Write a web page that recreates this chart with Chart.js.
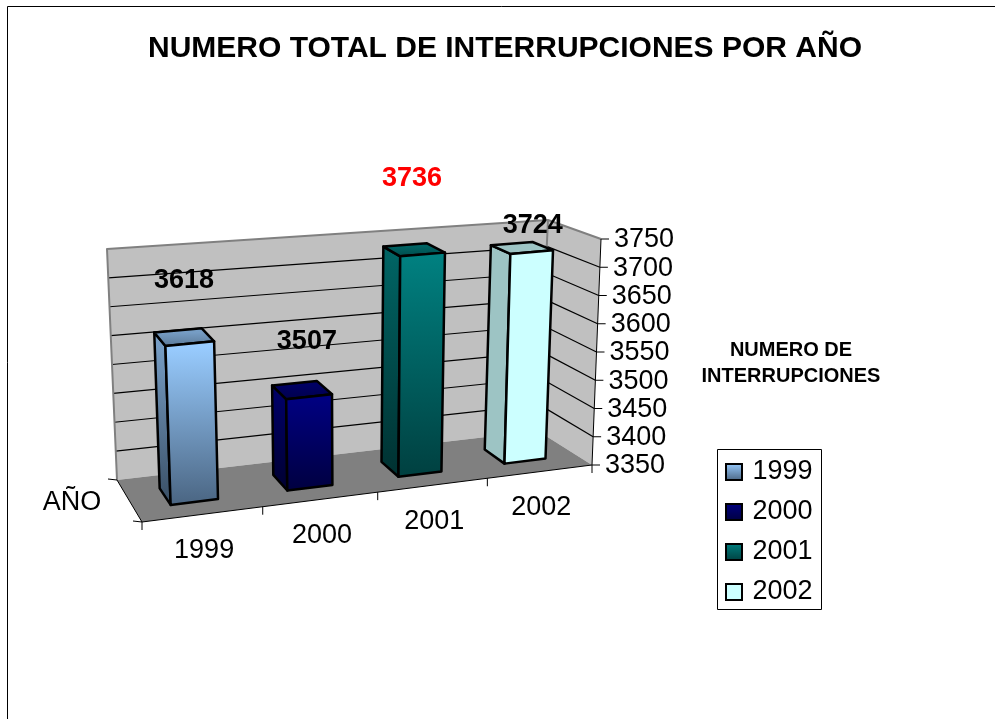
<!DOCTYPE html>
<html>
<head>
<meta charset="utf-8">
<style>html,body{margin:0;padding:0;background:#fff}canvas{display:block}</style>
<script src="https://cdn.jsdelivr.net/npm/chart.js@4/dist/chart.umd.js"></script>
</head>
<body>
<canvas id="c" width="995" height="719"></canvas>
<script>
const categories = ['1999', '2000', '2001', '2002'];
const values = [3618, 3507, 3736, 3724];
const yTickValues = [3350, 3400, 3450, 3500, 3550, 3600, 3650, 3700, 3750];
const chartTitle = 'NUMERO TOTAL DE INTERRUPCIONES POR AÑO';
const yAxisTitle = ['NUMERO DE', 'INTERRUPCIONES'];
const xAxisTitle = 'AÑO';
const colorsTop = ['#99CCFF', '#000080', '#008080', '#CCFFFF'];
const colorsBottom = ['#4A6582', '#000040', '#004040', '#CCFFFF'];
const labelColors = ['#000000', '#000000', '#FF0000', '#000000'];

const FONT = '"Liberation Sans", Arial, sans-serif';

// Oblique view of the plot box: corners of the box on the page
const box = {
  frontBottom: [[142, 522], [592, 465]],
  frontTop:    [[133, 280], [601, 239]],
  backBottom:  [[117, 480], [538, 431]],
  backTop:     [[107, 249], [548, 220]]
};
const foreshorten = 1.1;
const warp = u => foreshorten * u / (1 + (foreshorten - 1) * u);
const mix = (a, b, t) => [a[0] + (b[0] - a[0]) * t, a[1] + (b[1] - a[1]) * t];
function project(u, v, d) {
  const U = warp(u);
  const fb = mix(box.frontBottom[0], box.frontBottom[1], U);
  const ft = mix(box.frontTop[0], box.frontTop[1], U);
  const bb = mix(box.backBottom[0], box.backBottom[1], U);
  const bt = mix(box.backTop[0], box.backTop[1], U);
  return mix(mix(fb, ft, v), mix(bb, bt, v), d);
}
function shade(hex, k) {
  const n = parseInt(hex.slice(1), 16);
  const c = [n >> 16, (n >> 8) & 255, n & 255].map(x => Math.round(x * k));
  return `rgb(${c[0]},${c[1]},${c[2]})`;
}
function poly(ctx, pts) {
  ctx.beginPath();
  pts.forEach((p, i) => i ? ctx.lineTo(p[0], p[1]) : ctx.moveTo(p[0], p[1]));
  ctx.closePath();
}
function line(ctx, a, b) {
  ctx.beginPath(); ctx.moveTo(a[0], a[1]); ctx.lineTo(b[0], b[1]); ctx.stroke();
}
function swatch(i) {
  const cv = document.createElement('canvas');
  cv.width = 18; cv.height = 18;
  const g = cv.getContext('2d');
  const gr = g.createLinearGradient(0, 0, 0, 18);
  gr.addColorStop(0, colorsTop[i]); gr.addColorStop(1, colorsBottom[i]);
  g.fillStyle = gr; g.fillRect(1, 1, 16, 16);
  g.strokeStyle = '#000'; g.lineWidth = 2; g.strokeRect(1, 1, 16, 16);
  return cv;
}

const labelNudge = [[0, -56], [5, -48], [-2, -71], [11, -22]];
const categoryNudge = [1, 36];

const view3d = {
  id: 'view3d',
  afterLayout(chart) {
    const l = chart.legend;
    l.left = 716; l.right = 830; l.top = 445.5; l.bottom = 660;
  },
  beforeDatasetDraw() { return false; },
  afterDatasetsDraw(chart) {
    const ctx = chart.ctx, area = chart.chartArea;
    const xs = chart.scales.x, ys = chart.scales.y;
    const W = area.right - area.left, H = area.bottom - area.top;
    const nu = px => (px - area.left) / W;
    const nv = py => (area.bottom - py) / H;
    ctx.save();
    ctx.lineJoin = 'round';

    // Page frame
    ctx.strokeStyle = '#000'; ctx.lineWidth = 1;
    ctx.beginPath(); ctx.moveTo(7.5, 719); ctx.lineTo(7.5, 6.5); ctx.lineTo(995, 6.5); ctx.stroke();

    // Walls and floor
    ctx.fillStyle = '#C0C0C0';
    poly(ctx, [project(0,0,1), project(1,0,1), project(1,1,1), project(0,1,1)]); ctx.fill();
    poly(ctx, [project(1,0,1), project(1,0,0), project(1,1,0), project(1,1,1)]); ctx.fill();
    ctx.fillStyle = '#808080';
    poly(ctx, [project(0,0,1), project(1,0,1), project(1,0,0), project(0,0,0)]); ctx.fill();

    // Grid lines on the walls
    ctx.strokeStyle = '#000'; ctx.lineWidth = 1.2;
    ys.ticks.forEach(t => {
      const v = nv(ys.getPixelForValue(t.value));
      if (v <= 0.001 || v >= 0.999) return;
      line(ctx, project(0,v,1), project(1,v,1));
      line(ctx, project(1,v,1), project(1,v,0));
    });

    // Wall edges
    ctx.strokeStyle = '#808080'; ctx.lineWidth = 2;
    ctx.beginPath();
    [[0,0,1],[0,1,1],[1,1,1],[1,1,0]].forEach((q, i) => {
      const p = project(q[0], q[1], q[2]);
      i ? ctx.lineTo(p[0], p[1]) : ctx.moveTo(p[0], p[1]);
    });
    ctx.stroke();
    line(ctx, project(1,1,1), project(1,0,1));

    // Axis lines
    ctx.strokeStyle = '#000'; ctx.lineWidth = 1;
    line(ctx, project(0,0,1), project(0,0,0));
    line(ctx, project(0,0,0), project(1,0,0));
    line(ctx, project(1,0,0), project(1,1,0));

    // Category ticks, floor-edge ticks
    for (let i = 0; i <= categories.length; i++) {
      const p = project(i / categories.length, 0, 0);
      line(ctx, p, [p[0], p[1] + 8]);
    }
    [0, 1].forEach(d => {
      const p = project(0, 0, d);
      line(ctx, p, [p[0] - 9, p[1] - 1]);
    });

    // Value axis
    ctx.fillStyle = '#000'; ctx.textAlign = 'left'; ctx.textBaseline = 'middle';
    ctx.font = '27px ' + FONT;
    ys.ticks.forEach(t => {
      const v = nv(ys.getPixelForValue(t.value));
      const p = project(1, v, 0);
      line(ctx, p, [p[0] + 8, p[1]]);
      ctx.fillText(t.label, p[0] + 13, p[1] + 1);
    });

    // Category labels
    ctx.textAlign = 'center';
    xs.ticks.forEach((t, i) => {
      const p = project(nu(xs.getPixelForTick(i)), 0, 0);
      ctx.fillText(t.label, p[0] + categoryNudge[0], p[1] + categoryNudge[1]);
    });

    // Axis titles
    ctx.fillText(xAxisTitle, 72, 503);
    ctx.font = 'bold 20px ' + FONT;
    yAxisTitle.forEach((s, i) => ctx.fillText(s, 791, 350 + i * 26));

    // Columns
    const meta = chart.getDatasetMeta(0);
    const d0 = 0.3, d1 = 0.7;
    meta.data.forEach((bar, i) => {
      const u0 = nu(bar.x - bar.width / 2), u1 = nu(bar.x + bar.width / 2);
      const vb = nv(bar.base), vt = nv(bar.y);
      const fbl = project(u0, vb, d0), fbr = project(u1, vb, d0);
      const ftl = project(u0, vt, d0), ftr = project(u1, vt, d0);
      const bbl = project(u0, vb, d1), btl = project(u0, vt, d1), btr = project(u1, vt, d1);
      const ramp = k => {
        const g = ctx.createLinearGradient(0, ftl[1], 0, fbl[1]);
        g.addColorStop(0, shade(colorsTop[i], k));
        g.addColorStop(1, shade(colorsBottom[i], k));
        return g;
      };
      ctx.strokeStyle = '#000'; ctx.lineWidth = 2.5;
      ctx.fillStyle = ramp(0.77);
      poly(ctx, [btl, ftl, fbl, bbl]); ctx.fill(); ctx.stroke();
      const tg = ctx.createLinearGradient(0, btl[1], 0, ftl[1]);
      tg.addColorStop(0, shade(colorsTop[i], 0.77));
      tg.addColorStop(1, shade(colorsTop[i], i === 3 ? 0.77 : 0.6));
      ctx.fillStyle = tg;
      poly(ctx, [btl, btr, ftr, ftl]); ctx.fill(); ctx.stroke();
      ctx.fillStyle = ramp(1);
      poly(ctx, [ftl, ftr, fbr, fbl]); ctx.fill(); ctx.stroke();
    });

    // Value labels
    ctx.font = 'bold 27px ' + FONT;
    ctx.textAlign = 'center';
    meta.data.forEach((bar, i) => {
      const p = project(nu(bar.x), nv(bar.y), 0.5);
      ctx.fillStyle = labelColors[i];
      ctx.fillText(String(values[i]), p[0] + labelNudge[i][0], p[1] + labelNudge[i][1]);
    });

    // Legend frame
    ctx.strokeStyle = '#000'; ctx.lineWidth = 1;
    ctx.strokeRect(717.5, 449.5, 104, 160);
    ctx.restore();
  }
};

new Chart(document.getElementById('c'), {
  type: 'bar',
  data: {
    labels: categories,
    datasets: [{
      label: 'NUMERO DE INTERRUPCIONES',
      data: values,
      base: 3350,
      backgroundColor: colorsTop,
      barPercentage: 0.8,
      categoryPercentage: 0.5
    }]
  },
  options: {
    responsive: false,
    animation: false,
    devicePixelRatio: 1,
    layout: { padding: { left: 15 } },
    scales: {
      x: { display: false, ticks: { autoSkip: false } },
      y: {
        display: false, min: 3350, max: 3750,
        ticks: { autoSkip: false, callback: v => String(v) },
        afterBuildTicks: s => { s.ticks = yTickValues.map(v => ({ value: v })); }
      }
    },
    plugins: {
      tooltip: { enabled: false },
      title: {
        display: true,
        text: chartTitle,
        color: '#000',
        font: { family: FONT, size: 30, weight: 'bold' },
        padding: { top: 31, bottom: 10 }
      },
      legend: {
        display: true,
        position: 'right',
        align: 'start',
        labels: {
          color: '#000',
          font: { family: FONT, size: 27 },
          usePointStyle: true,
          pointStyleWidth: 10,
          padding: 13,
          generateLabels: () => categories.map((c, i) => ({
            text: c, pointStyle: swatch(i), fontColor: '#000', hidden: false, lineWidth: 0, index: i
          }))
        }
      }
    }
  },
  plugins: [view3d]
});
</script>
</body>
</html>
